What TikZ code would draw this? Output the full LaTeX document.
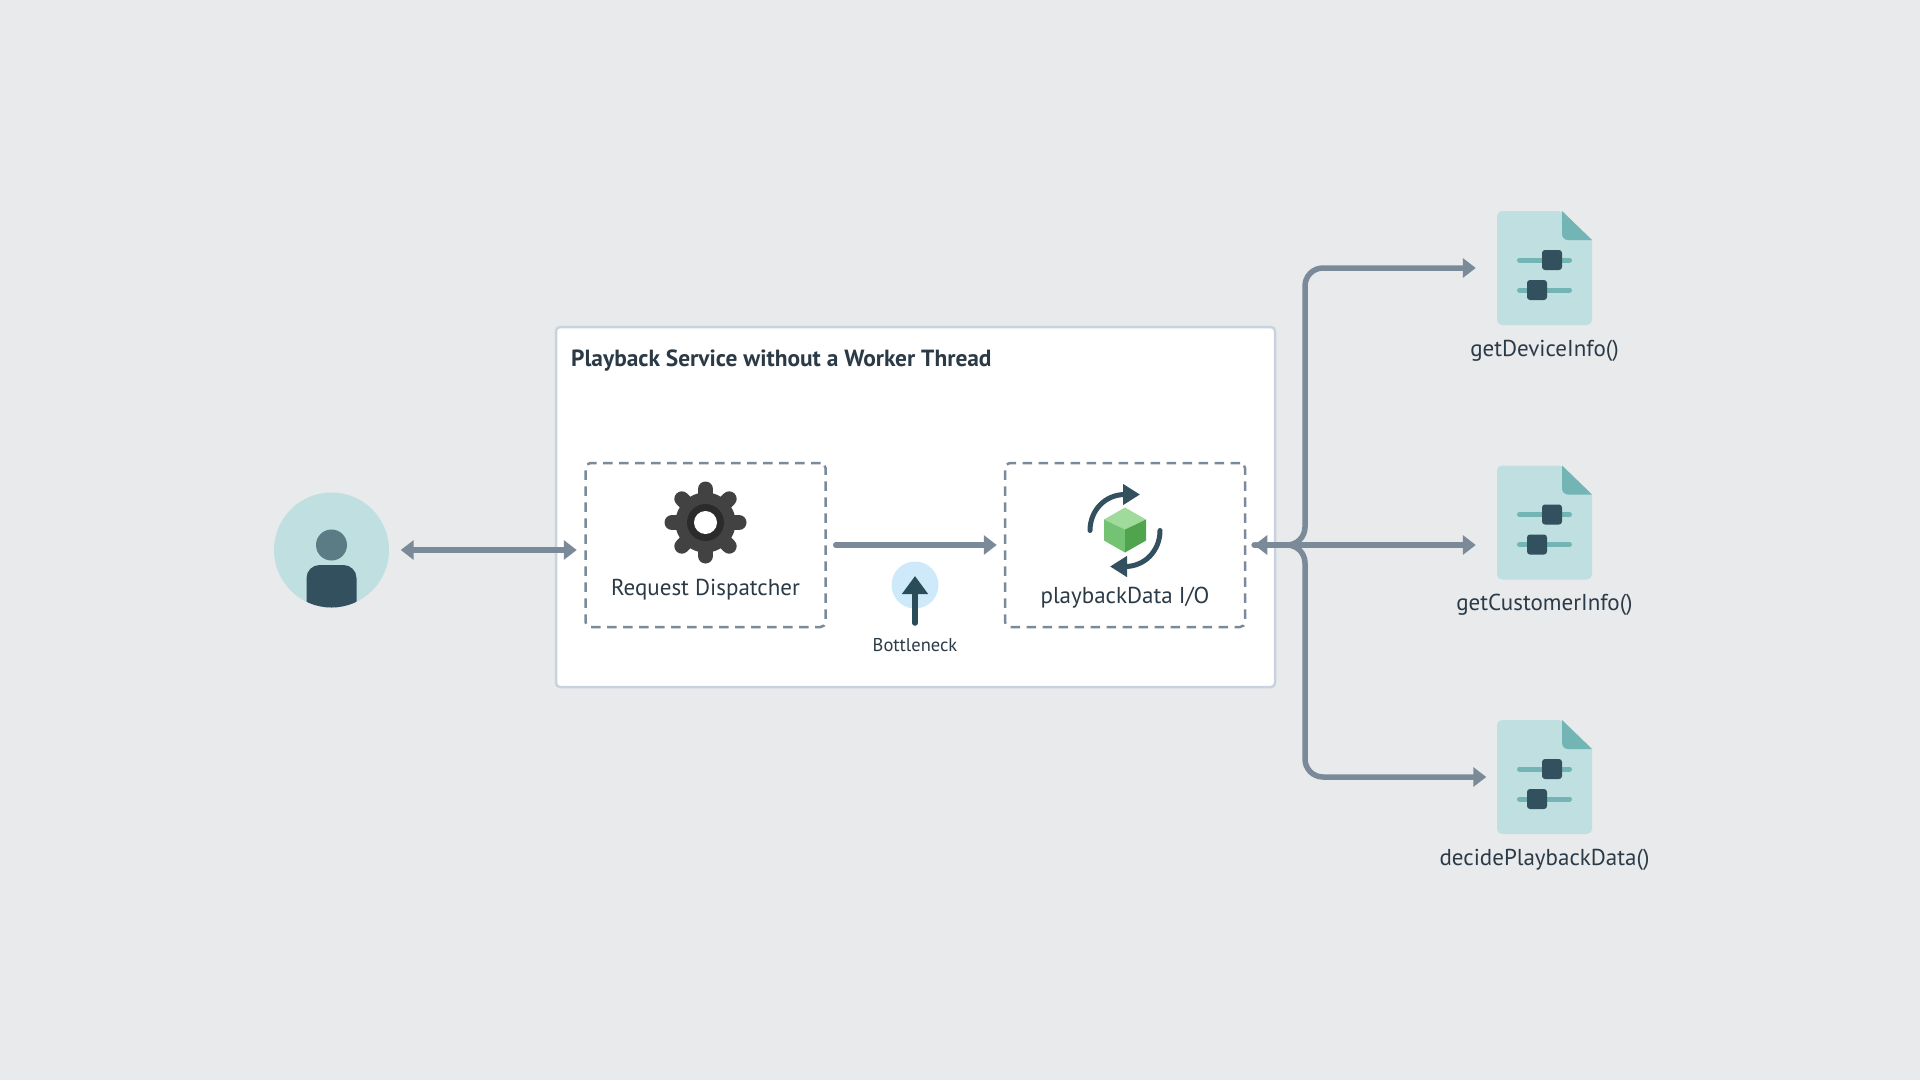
\documentclass[tikz,border=0pt]{standalone}
\usepackage{fontspec}
\setmainfont{PT Sans}
\usetikzlibrary{arrows.meta}
\definecolor{bgcol}{HTML}{E9EAEC}
\definecolor{linecol}{HTML}{7A8A99}
\definecolor{framecol}{HTML}{C8D3DF}
\definecolor{inkcol}{HTML}{2B3A47}
\definecolor{tealcol}{HTML}{BFDFE0}
\definecolor{foldcol}{HTML}{73B5B4}
\definecolor{navycol}{HTML}{33505F}
\tikzstyle{connector} = [line width=5.5pt, color=linecol, line cap=round, rounded corners=18pt]
\tikzstyle{headed} = [-{Triangle[length=13pt,width=19pt]}]
\tikzstyle{bothheaded} = [{Triangle[length=13pt,width=19pt]}-{Triangle[length=13pt,width=19pt]}]
\tikzstyle{dashbox} = [draw=linecol, line width=2.5pt, dash pattern=on 9.5pt off 6.5pt, rounded corners=5pt, minimum width=240pt, minimum height=164pt, inner sep=0pt]
\tikzstyle{caption} = [text=inkcol, font=\fontsize{23}{27}\selectfont, inner sep=0pt]
\tikzstyle{docfile} = [minimum width=95pt, minimum height=114pt, inner sep=0pt]
\tikzset{
    docicon/.pic={
        \fill [tealcol, rounded corners=5pt] (-47.5,-57) -- (17.5,-57) [sharp corners] -- (47.5,-28) [rounded corners=5pt] -- (47.5,57) -- (-47.5,57) -- cycle;
        \fill [foldcol] (17.5,-57) [rounded corners=6pt] -- (17.5,-28) [sharp corners] -- (47.5,-28) -- cycle;
        \draw [foldcol, line width=5pt, line cap=round] (-25,-8) -- (25,-8);
        \draw [foldcol, line width=5pt, line cap=round] (-25,22) -- (25,22);
        \fill [navycol, rounded corners=3pt] (-2.5,-18) rectangle (17.5,2);
        \fill [navycol, rounded corners=3pt] (-17.5,12) rectangle (2.5,32);
    },
    gearicon/.pic={
        \foreach \a in {0,45,...,315} {
            \draw [color=black!74, line width=15pt, line cap=round] (0,0) -- (\a:33.5);
        }
        \fill [black!74] (0,0) circle (30);
        \fill [black!83] (0,0) circle (18.5);
        \fill [white] (0,0) circle (11.5);
    },
    syncicon/.pic={
        \fill [fill={rgb,255:red,160;green,219;blue,156}] (0,-23) -- (21,-11) -- (0,-1) -- (-21,-11) -- cycle;
        \fill [fill={rgb,255:red,116;green,194;blue,116}] (-21,-11) -- (0,-1) -- (0,22) -- (-21,10) -- cycle;
        \fill [fill={rgb,255:red,80;green,164;blue,78}] (21,-11) -- (0,-1) -- (0,22) -- (21,10) -- cycle;
        \draw [navycol, line width=5pt, line cap=round, -{Triangle[length=17pt,width=20pt]}] (-35,0) .. controls (-35,-20) and (-20,-36) .. (0,-36) -- (15,-36);
        \draw [navycol, line width=5pt, line cap=round, -{Triangle[length=17pt,width=20pt]}] (35,0) .. controls (35,20) and (20,36) .. (0,36) -- (-15,36);
    }
}

\begin{document}
\begin{tikzpicture}[x=1pt, y=-1pt, node distance=82.5pt]
    \fill [bgcol] (0,0) rectangle (1920,1080);

    \node (service) [draw=framecol, fill=white, line width=2.5pt, rounded corners=4pt, minimum width=719pt, minimum height=360pt, inner sep=0pt] at (915.5,507) {};
    \node (title) [anchor=west, text=inkcol, inner sep=0pt, font=\fontsize{23.4}{27}\selectfont\bfseries] at (571,360.5) {Playback Service without a Worker Thread};

    \node (user) [circle, fill=tealcol, minimum size=115pt, inner sep=0pt] at (331.5,550) {};
    \fill [color={rgb,255:red,91;green,124;blue,132}] (331.5,545) circle (15.5);
    \begin{scope}
        \clip (user.center) circle (57.5);
        \fill [navycol, rounded corners=13pt] (306.5,640) -- (306.5,565) -- (356.5,565) -- (356.5,640) -- cycle;
    \end{scope}

    \node (request) [dashbox] at (705.5,545) {};
    \node (data) [dashbox] at (1125,545) {};
    \node (gear) [inner sep=0pt] at (705.5,522.5) {};
    \pic at (gear) {gearicon};
    \node (requestlabel) [caption] at (705.5,589.5) {Request Dispatcher};
    \node (sync) [inner sep=0pt] at (1125,530.5) {};
    \pic at (sync) {syncicon};
    \node (datalabel) [caption] at (1125,597.5) {playbackData I/O};

    \node (neck) [circle, fill={rgb,255:red,205;green,233;blue,250}, minimum size=47pt, inner sep=0pt] at (915,585) {};
    \coordinate (necktail) at (915,623);
    \coordinate (necktip) at (915,576);
    \draw [color={rgb,255:red,42;green,75;blue,88}, line width=5.5pt, line cap=round, -{Triangle[length=18pt,width=25pt]}] (necktail) -- (necktip);
    \node (necklabel) [text=inkcol, inner sep=0pt, font=\fontsize{18.5}{22}\selectfont] at (915,645) {Bottleneck};

    \node (devfile) [docfile] at (1544.5,268) {};
    \node (custfile) [docfile, below of=devfile, node distance=254.5pt] {};
    \node (decidefile) [docfile, below of=custfile, node distance=254.5pt] {};
    \pic at (devfile) {docicon};
    \pic at (custfile) {docicon};
    \pic at (decidefile) {docicon};
    \node (devlabel) [caption, below of=devfile] {getDeviceInfo()};
    \node (custlabel) [caption, below of=custfile] {getCustomerInfo()};
    \node (decidelabel) [caption, below of=decidefile] {decidePlaybackData()};

    \coordinate (hub) at (1305,545);

    \draw [connector, bothheaded, shorten <=11.5pt, shorten >=7.5pt] (user.east) -- (user.east -| request.west);
    \draw [connector, headed, shorten <=9pt, shorten >=7pt] (request.east) -- (data.west);
    \draw [connector, headed, shorten <=8pt, shorten >=21pt] (data.east) -- (hub) |- (devfile.west);
    \draw [connector, headed, shorten <=8pt, shorten >=10.5pt] (data.east) -- (hub) |- (decidefile.west);
    \draw [connector, bothheaded, shorten <=8pt, shorten >=21pt] (data.east) -- (data.east -| custfile.west);
\end{tikzpicture}
\end{document}
